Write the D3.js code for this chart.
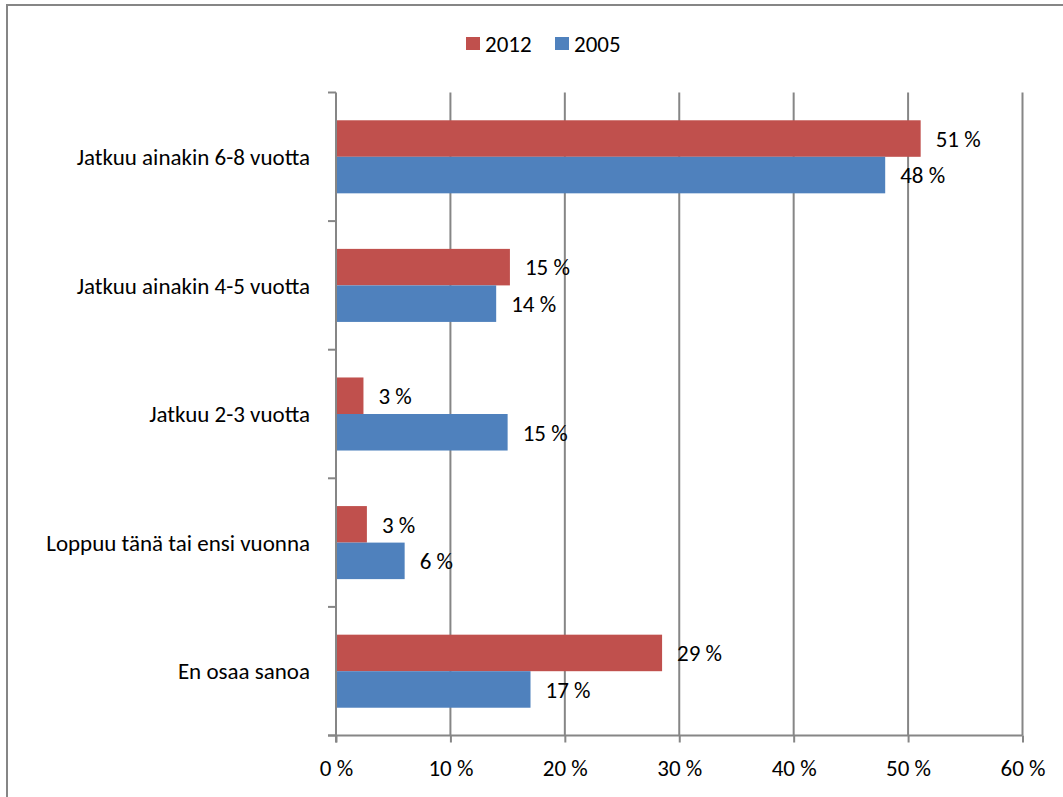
<!DOCTYPE html>
<html>
<head>
<meta charset="utf-8">
<script src="https://cdn.jsdelivr.net/npm/d3@7"></script>
<style>
  body { margin: 0; background: #fff; }
  text { font-family: Carlito, Calibri, Lato, sans-serif; fill: #000; }
</style>
</head>
<body>
<div class="visContainer"></div>
<script>
// Data.
const categories = [
  'Jatkuu ainakin 6-8 vuotta',
  'Jatkuu ainakin 4-5 vuotta',
  'Jatkuu 2-3 vuotta',
  'Loppuu tänä tai ensi vuonna',
  'En osaa sanoa'
];
const seriesNames = ['2012', '2005'];
const values2012 = [51.1, 15.2, 2.4, 2.7, 28.5];
const values2005 = [48.0, 14.0, 15.0, 6.0, 17.0];
const labels2012 = ['51 %', '15 %', '3 %', '3 %', '29 %'];
const labels2005 = ['48 %', '14 %', '15 %', '6 %', '17 %'];
const xTicks = [0, 10, 20, 30, 40, 50, 60];

// SVG constants.
const width = 1063;
const height = 797;
const plotLeft = 336, plotRight = 1022.5, plotTop = 92.5, plotBottom = 735.5;
const fontSize = '23px';
const colors = { '2012': '#C0504D', '2005': '#4F81BD' };

const svg = d3.select('.visContainer')
  .append('svg')
  .attr('width', width)
  .attr('height', height);

// Outer chart border.
svg.append('rect')
  .attr('x', 7).attr('y', 5)
  .attr('width', width + 20).attr('height', height + 20)
  .attr('fill', 'none')
  .attr('stroke', '#868686')
  .attr('stroke-width', 2);

// Scales.
const x = d3.scaleLinear().domain([0, 60]).range([plotLeft, plotRight]);
const y = d3.scaleBand()
  .domain(categories)
  .range([plotTop, plotBottom])
  .paddingInner(0.432)
  .paddingOuter(0.216);
const ySub = d3.scaleBand()
  .domain(seriesNames)
  .range([0, y.bandwidth()]);

// Gridlines.
svg.append('g')
  .selectAll('line')
  .data(xTicks.slice(1))
  .enter()
  .append('line')
  .attr('x1', d => x(d)).attr('x2', d => x(d))
  .attr('y1', plotTop).attr('y2', plotBottom)
  .attr('stroke', '#868686')
  .attr('stroke-width', 2);

// Bars.
const rows = categories.map((c, i) => ({
  cat: c,
  vals: [
    { s: '2012', v: values2012[i], label: labels2012[i] },
    { s: '2005', v: values2005[i], label: labels2005[i] }
  ]
}));

const groups = svg.append('g')
  .selectAll('g')
  .data(rows)
  .enter()
  .append('g')
  .attr('transform', d => 'translate(0,' + y(d.cat) + ')');

groups.selectAll('rect')
  .data(d => d.vals)
  .enter()
  .append('rect')
  .attr('x', x(0))
  .attr('y', d => ySub(d.s))
  .attr('width', d => x(d.v) - x(0))
  .attr('height', ySub.bandwidth())
  .attr('fill', d => colors[d.s]);

groups.selectAll('text')
  .data(d => d.vals)
  .enter()
  .append('text')
  .attr('x', d => x(d.v) + 15)
  .attr('y', d => ySub(d.s) + ySub.bandwidth() / 2)
  .attr('dy', '0.36em')
  .style('font-size', fontSize)
  .text(d => d.label);

// X axis.
const xAxis = d3.axisBottom(x)
  .tickValues(xTicks)
  .tickSize(7)
  .tickFormat(d => d + ' %');
const gx = svg.append('g')
  .attr('transform', 'translate(0,' + plotBottom + ')')
  .call(xAxis);
gx.select('.domain').attr('stroke', '#868686').attr('stroke-width', 2)
  .attr('d', 'M' + (plotLeft - 8) + ',0H' + plotRight);
gx.selectAll('.tick line').attr('stroke', '#868686').attr('stroke-width', 2);
gx.selectAll('.tick text')
  .attr('y', 24)
  .attr('fill', '#000')
  .style('font-size', fontSize)
  .style('font-family', 'Carlito, Calibri, Lato, sans-serif');

// Y axis.
const yTickPos = d3.range(categories.length + 1).map(i => plotTop + i * y.step());
const gy = svg.append('g');
gy.append('line')
  .attr('x1', plotLeft).attr('x2', plotLeft)
  .attr('y1', plotTop).attr('y2', plotBottom + 7)
  .attr('stroke', '#868686').attr('stroke-width', 2);
gy.selectAll('line.tick')
  .data(yTickPos)
  .enter()
  .append('line')
  .attr('class', 'tick')
  .attr('x1', plotLeft - 8).attr('x2', plotLeft)
  .attr('y1', d => d).attr('y2', d => d)
  .attr('stroke', '#868686').attr('stroke-width', 2);
gy.selectAll('text')
  .data(categories)
  .enter()
  .append('text')
  .attr('x', 310)
  .attr('y', d => y(d) + y.bandwidth() / 2)
  .attr('dy', '0.36em')
  .attr('text-anchor', 'end')
  .style('font-size', fontSize)
  .text(d => d);

// Legend.
const legend = svg.append('g').attr('id', 'legend');
const legendX = [466, 555];
seriesNames.forEach((s, i) => {
  legend.append('rect')
    .attr('x', legendX[i]).attr('y', 37)
    .attr('width', 14).attr('height', 13)
    .attr('fill', colors[s]);
  legend.append('text')
    .attr('x', legendX[i] + 19).attr('y', 44)
    .attr('dy', '0.36em')
    .style('font-size', fontSize)
    .text(s);
});
</script>
</body>
</html>
